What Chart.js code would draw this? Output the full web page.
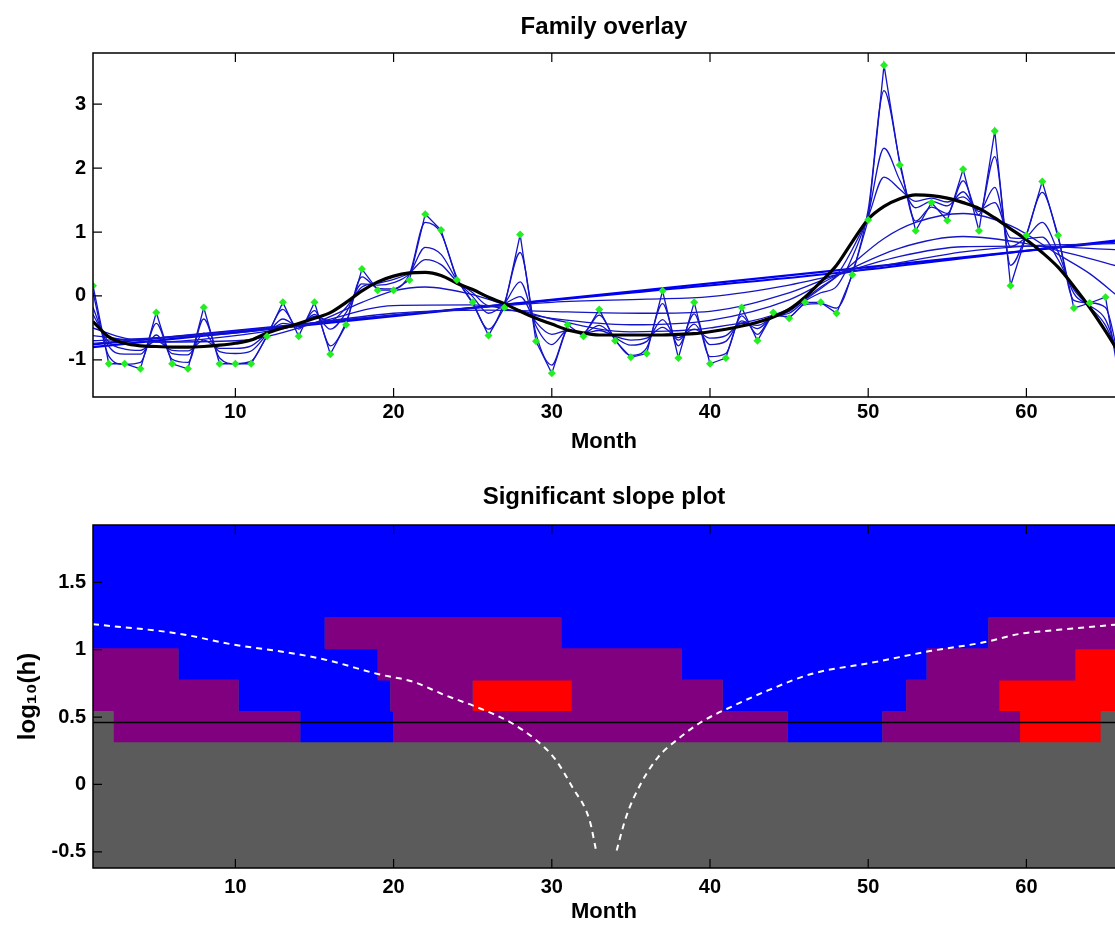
<!DOCTYPE html>
<html lang="en">
<head>
    <meta charset="UTF-8">
    <title>Family overlay / Significant slope plot</title>
    <style>
        body {
            margin: 0;
            background: #fff;
            overflow: hidden;
        }

        .panel {
            position: absolute;
            left: 0;
        }

        #topPanel { top: 0; }
        #bottomPanel { top: 460px; }
    </style>
    <script src="https://cdn.jsdelivr.net/npm/chart.js"></script>
</head>
<body>
    <div class="panel" id="topPanel"><canvas id="familyChart" width="1115" height="460"></canvas></div>
    <div class="panel" id="bottomPanel"><canvas id="sizerChart" width="1115" height="465"></canvas></div>

    <script>
        // ---- data ----
        const months = [1, 2, 3, 4, 5, 6, 7, 8, 9, 10, 11, 12, 13, 14, 15, 16, 17, 18, 19, 20, 21, 22,
            23, 24, 25, 26, 27, 28, 29, 30, 31, 32, 33, 34, 35, 36, 37, 38, 39, 40, 41, 42, 43, 44,
            45, 46, 47, 48, 49, 50, 51, 52, 53, 54, 55, 56, 57, 58, 59, 60, 61, 62, 63, 64, 65, 66];

        // observed series (green points)
        const observed = [0.16, -1.06, -1.06, -1.14, -0.26, -1.06, -1.14, -0.18, -1.06, -1.06, -1.06,
            -0.63, -0.10, -0.63, -0.10, -0.91, -0.45, 0.42, 0.09, 0.09, 0.25, 1.28, 1.03, 0.25, -0.10,
            -0.62, -0.18, 0.96, -0.71, -1.21, -0.45, -0.63, -0.21, -0.70, -0.96, -0.90, 0.08, -0.97,
            -0.10, -1.06, -0.97, -0.18, -0.70, -0.26, -0.35, -0.10, -0.10, -0.27, 0.33, 1.19, 3.61,
            2.05, 1.02, 1.46, 1.18, 1.98, 1.02, 2.58, 0.16, 0.95, 1.79, 0.95, -0.19, -0.11, -0.02, -1.50];

        // highlighted smooth (black)
        const chosenFit = [-0.40, -0.64, -0.74, -0.78, -0.79, -0.80, -0.80, -0.79, -0.77, -0.74, -0.69,
            -0.58, -0.50, -0.43, -0.35, -0.26, -0.10, 0.08, 0.22, 0.31, 0.36, 0.37, 0.32, 0.20, 0.10,
            -0.02, -0.12, -0.24, -0.35, -0.44, -0.53, -0.58, -0.61, -0.61, -0.61, -0.61, -0.61, -0.60,
            -0.59, -0.56, -0.52, -0.47, -0.41, -0.33, -0.21, -0.02, 0.22, 0.48, 0.85, 1.20, 1.40, 1.52,
            1.58, 1.57, 1.53, 1.46, 1.37, 1.22, 1.05, 0.88, 0.68, 0.45, 0.15, -0.18, -0.55, -0.95];

        // family members with small bandwidth (one value per month)
        const fitH1 = [0.05, -0.94, -1.07, -1.04, -0.43, -0.99, -1.04, -0.36, -0.97, -1.06, -1.02,
            -0.62, -0.21, -0.52, -0.23, -0.78, -0.41, 0.30, 0.12, 0.11, 0.34, 1.15, 0.98, 0.29, -0.12,
            -0.52, -0.11, 0.68, -0.59, -1.08, -0.54, -0.57, -0.30, -0.68, -0.93, -0.81, -0.12, -0.78,
            -0.28, -0.95, -0.90, -0.31, -0.60, -0.31, -0.32, -0.13, -0.12, -0.19, 0.36, 1.35, 3.21,
            2.10, 1.17, 1.39, 1.29, 1.80, 1.27, 2.18, 0.48, 0.96, 1.62, 0.92, -0.07, -0.11, -0.18, -1.20];
        const fitH2 = [-0.18, -0.79, -0.91, -0.91, -0.61, -0.90, -0.92, -0.58, -0.87, -0.90, -0.86,
            -0.60, -0.36, -0.48, -0.29, -0.52, -0.26, 0.19, 0.17, 0.21, 0.35, 0.76, 0.65, 0.25, -0.01,
            -0.27, -0.12, 0.22, -0.47, -0.76, -0.54, -0.58, -0.46, -0.65, -0.77, -0.71, -0.37, -0.69,
            -0.44, -0.76, -0.71, -0.39, -0.51, -0.32, -0.27, -0.08, 0.05, 0.15, 0.61, 1.28, 2.31,
            1.81, 1.38, 1.48, 1.41, 1.63, 1.32, 1.70, 0.77, 0.92, 1.15, 0.69, 0.04, -0.15, -0.37, -1.08];
        const fitH3 = [-0.29, -0.72, -0.83, -0.85, -0.70, -0.85, -0.86, -0.69, -0.82, -0.82, -0.78,
            -0.59, -0.43, -0.46, -0.32, -0.39, -0.18, 0.14, 0.20, 0.26, 0.36, 0.57, 0.49, 0.23, 0.05,
            -0.15, -0.12, -0.01, -0.41, -0.60, -0.54, -0.58, -0.54, -0.63, -0.69, -0.66, -0.49, -0.65,
            -0.52, -0.66, -0.62, -0.43, -0.46, -0.33, -0.24, -0.05, 0.14, 0.32, 0.73, 1.24, 1.86,
            1.67, 1.48, 1.53, 1.47, 1.55, 1.35, 1.46, 0.91, 0.90, 0.92, 0.57, 0.10, -0.17, -0.46, -1.02];

        // family members with large bandwidth (sampled months)
        const fitH5Months = [1, 3, 5, 10, 15, 18, 20, 22, 25, 28, 30, 35, 40, 45, 48, 51, 53, 56, 59, 62, 64, 66];
        const fitH5 = [-0.50, -0.66, -0.72, -0.70, -0.42, -0.10, 0.08, 0.14, 0.02, -0.22, -0.36, -0.56,
            -0.50, -0.20, 0.30, 0.90, 1.15, 1.29, 1.10, 0.65, 0.35, -0.05];
        const fitH8Months = [1, 5, 10, 15, 20, 25, 30, 35, 40, 45, 48, 52, 56, 60, 63, 66];
        const fitH8 = [-0.62, -0.72, -0.62, -0.42, -0.15, -0.14, -0.35, -0.45, -0.38, -0.06, 0.32, 0.75,
            0.93, 0.82, 0.65, 0.45];
        const fitH13Months = [1, 10, 20, 26, 31, 36, 40, 45, 48, 52, 56, 60, 66];
        const fitH13 = [-0.70, -0.58, -0.27, -0.22, -0.25, -0.27, -0.24, 0.05, 0.33, 0.62, 0.77, 0.78, 0.72];
        const fitH23Months = [1, 10, 20, 30, 36, 40, 45, 48, 52, 56, 60, 66];
        const fitH23 = [-0.74, -0.55, -0.30, -0.10, -0.05, -0.01, 0.17, 0.33, 0.52, 0.69, 0.78, 0.82];
        const fitH39Months = [1, 20, 35, 48, 58, 66];
        const fitH39 = [-0.76, -0.30, 0.05, 0.36, 0.65, 0.88];
        const fitH66Months = [1, 66];
        const fitH66 = [-0.80, 0.86];

        // SiZer map: rows of log10(h), segment edges (months) and slope state per segment
        const logH = [-0.504, -0.271, -0.039, 0.194, 0.426, 0.659, 0.891, 1.124, 1.356, 1.589, 1.821];
        const mapEdges = [
            [1, 66],
            [1, 66],
            [1, 66],
            [1, 66],
            [1, 2.3, 14.1, 20.0, 44.9, 50.9, 59.6, 64.7, 66],
            [1, 10.2, 19.8, 25.0, 31.25, 40.8, 52.4, 58.3, 66],
            [1, 6.4, 19.0, 38.2, 53.7, 63.1, 66],
            [1, 15.65, 30.6, 57.6, 66],
            [1, 66],
            [1, 66],
            [1, 66]
        ];
        const mapStates = [
            ['grey'], ['grey'], ['grey'], ['grey'],
            ['grey', 'purple', 'blue', 'purple', 'blue', 'purple', 'red', 'grey'],
            ['purple', 'blue', 'purple', 'red', 'purple', 'blue', 'purple', 'red'],
            ['purple', 'blue', 'purple', 'blue', 'purple', 'red'],
            ['blue', 'purple', 'blue', 'purple'],
            ['blue'], ['blue'], ['blue']
        ];

        // effective-window boundary curves (white dashed) and chosen bandwidth (black line)
        const leftEdgeMonths = [1, 6.4, 9.8, 13.8, 15.9, 19.0, 21.3, 23.1, 25.35, 27.4, 29.0, 30.2, 31.3, 32.4, 32.8];
        const leftEdgeLogH = [1.19, 1.12, 1.04, 0.97, 0.92, 0.82, 0.76, 0.67, 0.57, 0.46, 0.33, 0.19, -0.02, -0.27, -0.49];
        const rightEdgeMonths = [34.1, 34.7, 35.6, 36.7, 37.9, 39.4, 41.5, 43.7, 46.4, 50.5, 53.9, 57.3, 59.5, 62.2, 66];
        const rightEdgeLogH = [-0.49, -0.24, 0.0, 0.2, 0.33, 0.46, 0.585, 0.70, 0.82, 0.91, 0.99, 1.055, 1.116, 1.15, 1.19];
        const chosenLogH = 0.46;

        const xTicks = [10, 20, 30, 40, 50, 60];
        const topYTicks = [-1, 0, 1, 2, 3];
        const bottomYTicks = [-0.5, 0, 0.5, 1, 1.5];

        // ---- helpers ----
        const pts = (xs, ys) => xs.map((x, i) => ({ x: x, y: ys[i] }));
        const FONT = 'Arial, "Liberation Sans", sans-serif';
        Chart.defaults.color = '#000';
        Chart.defaults.font.family = FONT;

        // MATLAB-like frame with inward tick marks
        const frameTicks = {
            id: 'frameTicks',
            afterDatasetsDraw(chart) {
                const { ctx, chartArea: a, scales: { x, y } } = chart;
                ctx.save();
                ctx.strokeStyle = '#000';
                ctx.lineWidth = 1.5;
                ctx.beginPath();
                ctx.moveTo(a.right + 2, a.top);
                ctx.lineTo(a.left, a.top);
                ctx.lineTo(a.left, a.bottom);
                ctx.lineTo(a.right + 2, a.bottom);
                ctx.stroke();
                ctx.lineWidth = 1.2;
                ctx.beginPath();
                x.ticks.forEach(t => {
                    const px = x.getPixelForValue(t.value);
                    ctx.moveTo(px, a.bottom); ctx.lineTo(px, a.bottom - 9);
                    ctx.moveTo(px, a.top); ctx.lineTo(px, a.top + 9);
                });
                y.ticks.forEach(t => {
                    const py = y.getPixelForValue(t.value);
                    ctx.moveTo(a.left, py); ctx.lineTo(a.left + 9, py);
                });
                ctx.stroke();
                ctx.restore();
            }
        };

        // grey backdrop behind the map so seams between cells don't show white
        const mapBackdrop = {
            id: 'mapBackdrop',
            beforeDatasetsDraw(chart) {
                const { ctx, chartArea: a } = chart;
                ctx.save();
                ctx.fillStyle = '#5b5b5b';
                ctx.fillRect(a.left, a.top, a.right - a.left, a.bottom - a.top);
                ctx.restore();
            }
        };

        function xAxis(height, tickPad, titlePad) {
            return {
                type: 'linear',
                min: 1,
                max: 65.6,
                offset: false,
                grid: { display: false, drawTicks: false },
                border: { display: false },
                afterBuildTicks: s => { s.ticks = xTicks.map(v => ({ value: v })); },
                afterFit: s => { s.height = height; },
                ticks: {
                    padding: tickPad,
                    maxRotation: 0,
                    font: { size: 20, weight: 'bold' },
                    callback: v => String(v)
                },
                title: {
                    display: true,
                    text: 'Month',
                    font: { size: 22, weight: 'bold' },
                    padding: { top: 0, bottom: titlePad }
                }
            };
        }

        function yAxis(min, max, tickList, title) {
            return {
                type: 'linear',
                min: min,
                max: max,
                offset: false,
                grid: { display: false, drawTicks: false },
                border: { display: false },
                afterBuildTicks: s => { s.ticks = tickList.map(v => ({ value: v })); },
                afterFit: s => { s.width = 93; },
                ticks: {
                    padding: 7,
                    font: { size: 20, weight: 'bold' },
                    callback: v => String(v)
                },
                title: title
            };
        }

        function titleOpts(text, padTop, padBottom) {
            return {
                display: true,
                text: text,
                fullSize: false,
                font: { size: 24, weight: 'bold' },
                padding: { top: padTop, bottom: padBottom }
            };
        }

        // ---- top: family overlay ----
        const thin = (data, extra) => Object.assign({
            data: data,
            borderColor: '#1414c8',
            borderWidth: 1.3,
            pointRadius: 0,
            cubicInterpolationMode: 'monotone',
            fill: false
        }, extra || {});

        new Chart(document.getElementById('familyChart'), {
            type: 'line',
            data: {
                datasets: [
                    {
                        label: 'Observed',
                        data: pts(months, observed),
                        showLine: false,
                        pointStyle: 'rectRot',
                        pointRadius: 4,
                        pointBackgroundColor: '#22ee22',
                        pointBorderWidth: 0
                    },
                    {
                        label: 'Chosen h',
                        data: pts(months, chosenFit),
                        borderColor: '#000',
                        borderWidth: 3.2,
                        pointRadius: 0,
                        cubicInterpolationMode: 'monotone'
                    },
                    thin(pts(months, observed), { cubicInterpolationMode: 'default', tension: 0 }),
                    thin(pts(months, fitH1)),
                    thin(pts(months, fitH2)),
                    thin(pts(months, fitH3)),
                    thin(pts(fitH5Months, fitH5)),
                    thin(pts(fitH8Months, fitH8)),
                    thin(pts(fitH13Months, fitH13)),
                    thin(pts(fitH23Months, fitH23)),
                    thin(pts(fitH39Months, fitH39), { borderColor: '#0000f0', borderWidth: 2 }),
                    thin(pts(fitH66Months, fitH66), { borderColor: '#0000f0', borderWidth: 2.2 })
                ]
            },
            options: {
                responsive: false,
                animation: false,
                devicePixelRatio: 1,
                layout: { padding: 0, autoPadding: false },
                plugins: {
                    legend: { display: false },
                    tooltip: { enabled: false },
                    title: titleOpts('Family overlay', 12.6, 11.6)
                },
                scales: {
                    x: xAxis(63, 3, 5),
                    y: yAxis(-1.58, 3.8, topYTicks, { display: false })
                }
            },
            plugins: [frameTicks]
        });

        // ---- bottom: significant slope (SiZer) map ----
        const stateColors = { grey: '#5b5b5b', purple: '#800080', blue: '#0000ff', red: '#ff0000' };
        const cells = {};
        logH.forEach((h, r) => {
            mapStates[r].forEach((s, k) => {
                (cells[s] = cells[s] || []).push({ x: [mapEdges[r][k], mapEdges[r][k + 1]], y: h });
            });
        });

        const mapSets = Object.keys(cells).map(s => ({
            type: 'bar',
            label: s,
            data: cells[s],
            indexAxis: 'y',
            grouped: false,
            backgroundColor: stateColors[s],
            borderWidth: 0,
            barPercentage: 1.03,
            categoryPercentage: 1,
            order: 2
        }));

        const dashed = data => ({
            type: 'line',
            data: data,
            borderColor: '#fff',
            borderWidth: 2,
            borderDash: [6, 5],
            pointRadius: 0,
            cubicInterpolationMode: 'monotone',
            order: 0
        });

        new Chart(document.getElementById('sizerChart'), {
            type: 'bar',
            data: {
                datasets: [
                    dashed(pts(leftEdgeMonths, leftEdgeLogH)),
                    dashed(pts(rightEdgeMonths, rightEdgeLogH)),
                    {
                        type: 'line',
                        data: [{ x: 1, y: chosenLogH }, { x: 66, y: chosenLogH }],
                        borderColor: '#000',
                        borderWidth: 1.6,
                        pointRadius: 0,
                        order: 1
                    }
                ].concat(mapSets)
            },
            options: {
                responsive: false,
                animation: false,
                devicePixelRatio: 1,
                layout: { padding: 0, autoPadding: false },
                plugins: {
                    legend: { display: false },
                    tooltip: { enabled: false },
                    title: titleOpts('Significant slope plot', 22.6, 13.6)
                },
                scales: {
                    x: xAxis(57, 7, 0),
                    y: yAxis(-0.62, 1.926, bottomYTicks, {
                        display: true,
                        text: 'log\u2081\u2080(h)',
                        font: { size: 24, weight: 'bold' },
                        padding: { top: 13.6, bottom: 0 }
                    })
                }
            },
            plugins: [mapBackdrop, frameTicks]
        });
    </script>
</body>
</html>
